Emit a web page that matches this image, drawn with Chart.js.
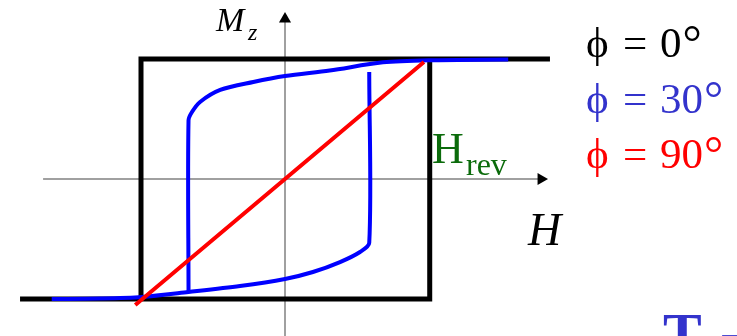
<!DOCTYPE html>
<html>
<head>
<meta charset="utf-8">
<script src="https://cdn.jsdelivr.net/npm/chart.js@4/dist/chart.umd.min.js"></script>
<style>
  html, body { margin: 0; padding: 0; background: #fff; overflow: hidden; }
  #wrap { width: 737px; height: 336px; }
</style>
</head>
<body>
<div id="wrap"><canvas id="loopChart" width="737" height="336"></canvas></div>
<script>
// Field H in units of the switching field, magnetisation Mz in units of Ms

// phi = 0 : square loop
const hSquare = [-1.84, 1.005, 1.005, 1.84, -1.0, -1.0];
const mSquare = [-1.0, -1.0, 1.0, 1.0, 1.0, -1.0];

// phi = 30 : descending branch and its jump down
const hTiltDown = [1.55, 1.0, 0.68, 0.31, 0.0, -0.22, -0.45, -0.59, -0.646, -0.67, -0.67];
const mTiltDown = [0.996, 0.99, 0.972, 0.904, 0.858, 0.808, 0.742, 0.642, 0.558, 0.49, -0.942];

// phi = 30 : ascending branch and its jump up
const hTiltUp = [-1.62, -1.285, -0.993, -0.67, -0.3125, 0.0, 0.194, 0.382, 0.521, 0.585, 0.585];
const mTiltUp = [-1.0, -0.996, -0.983, -0.942, -0.892, -0.833, -0.775, -0.692, -0.608, -0.533, 0.892];

// phi = 90 : hard axis, linear up to saturation
const hHard = [-1.04, 0.0, 0.965];
const mHard = [-1.05, 0.0, 0.975];

// axes with arrow heads
const hAxisX = [-1.68, 1.778];
const hAxisY = [0.0, 0.0];
const mAxisX = [0.0, 0.0];
const mAxisY = [-1.35, 1.333];

const legendAngles = ['0', '30', '90'];
const legendColors = ['#000000', '#3333cc', '#ff0000'];

function toPoints(hs, ms) {
    return hs.map((h, i) => ({ x: h, y: ms[i] }));
}

// text labels: axis names, H_rev marker and the legend
const labelPlugin = {
    id: 'labels',
    afterDatasetsDraw(chart) {
        const ctx = chart.ctx;
        ctx.save();
        ctx.textBaseline = 'alphabetic';
        ctx.textAlign = 'left';

        ctx.fillStyle = '#000';
        ctx.font = 'italic 34px "Liberation Serif"';
        ctx.fillText('M', 216, 31);
        ctx.font = 'italic 24px "Liberation Serif"';
        ctx.fillText('z', 248, 40);

        ctx.font = 'italic 46px "Liberation Serif"';
        ctx.fillText('H', 528, 245);

        ctx.fillStyle = '#0b6b0b';
        ctx.font = '44px "Liberation Serif"';
        ctx.fillText('H', 432, 163);
        ctx.font = '32px "Liberation Serif"';
        ctx.fillText('rev', 466, 175);

        legendAngles.forEach((deg, i) => {
            const y = 57 + i * 55.5;
            ctx.fillStyle = legendColors[i];
            ctx.font = '43px "Liberation Serif"';
            ctx.fillText('\u03d5', 586, y);
            ctx.fillText('=', 623, y);
            ctx.fillText(deg, 660, y);
            const w = ctx.measureText(deg).width;
            ctx.font = '48px "Liberation Serif"';
            ctx.fillText('\u00b0', 661 + w, y + 2);
        });

        ctx.fillStyle = '#3333cc';
        ctx.font = 'bold 58px "Liberation Serif"';
        ctx.fillText('T', 663, 353);
        ctx.fillText('-', 720, 351);
        ctx.restore();
    }
};

const ctx = document.getElementById('loopChart').getContext('2d');
const loopChart = new Chart(ctx, {
    type: 'scatter',
    data: {
        datasets: [
            {
                label: 'phi = 90',
                data: toPoints(hHard, mHard),
                showLine: true,
                borderColor: '#ff0000',
                borderWidth: 4,
                pointRadius: 0,
                order: 0
            },
            {
                label: 'phi = 30 down',
                data: toPoints(hTiltDown, mTiltDown),
                showLine: true,
                borderColor: '#0000ff',
                borderWidth: 4,
                tension: 0.3,
                pointRadius: 0,
                order: 1
            },
            {
                label: 'phi = 30 up',
                data: toPoints(hTiltUp, mTiltUp),
                showLine: true,
                borderColor: '#0000ff',
                borderWidth: 4,
                tension: 0.3,
                pointRadius: 0,
                order: 1
            },
            {
                label: 'phi = 0',
                data: toPoints(hSquare, mSquare),
                showLine: true,
                borderColor: '#000000',
                borderWidth: 5,
                borderJoinStyle: 'miter',
                pointRadius: 0,
                order: 2
            },
            {
                label: 'H axis',
                data: toPoints(hAxisX, hAxisY),
                showLine: true,
                borderColor: '#808080',
                borderWidth: 1.5,
                pointStyle: 'triangle',
                pointRotation: 90,
                pointRadius: [0, 7],
                pointBackgroundColor: '#000',
                pointBorderColor: '#000',
                pointBorderWidth: 0,
                order: 3
            },
            {
                label: 'Mz axis',
                data: toPoints(mAxisX, mAxisY),
                showLine: true,
                borderColor: '#808080',
                borderWidth: 1.5,
                pointStyle: 'triangle',
                pointRadius: [0, 7],
                pointBackgroundColor: '#000',
                pointBorderColor: '#000',
                pointBorderWidth: 0,
                order: 3
            }
        ]
    },
    options: {
        responsive: false,
        animation: false,
        events: [],
        layout: { padding: 0, autoPadding: false },
        plugins: { legend: { display: false }, tooltip: { enabled: false } },
        scales: {
            x: { type: 'linear', display: false, min: -285 / 144, max: (737 - 285) / 144 },
            y: { type: 'linear', display: false, min: (179 - 336) / 120, max: 179 / 120 }
        }
    },
    plugins: [labelPlugin]
});
</script>
</body>
</html>
